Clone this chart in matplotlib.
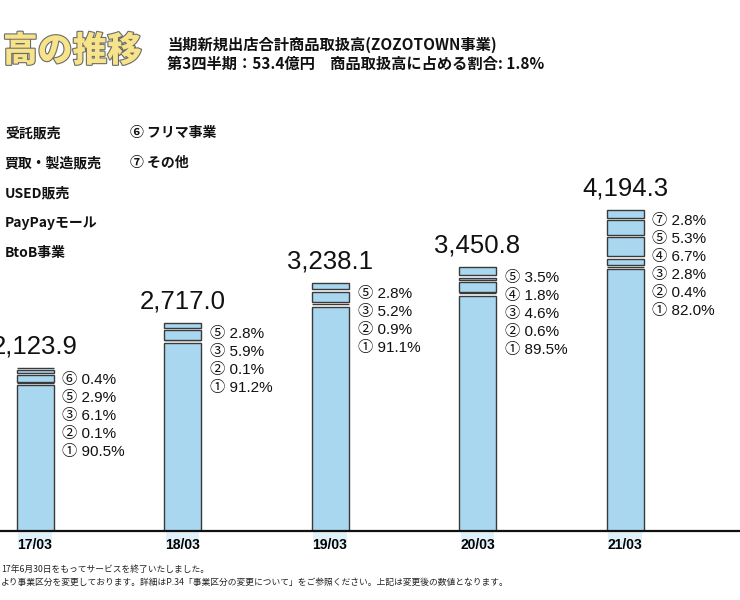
import matplotlib
matplotlib.use("Agg")
import matplotlib.pyplot as plt
import matplotlib.patheffects as pe
import numpy as np

plt.rcParams['font.family'] = ['Noto Sans CJK JP', 'DejaVu Sans']

# ---- data ----
periods = ['17/03', '18/03', '19/03', '20/03', '21/03']
totals = [2123.9, 2717.0, 3238.1, 3450.8, 4194.3]
# share (%) of each business segment, None = not present
seg1 = [90.5, 91.2, 91.1, 89.5, 82.0]   # ① 受託販売
seg2 = [0.1, 0.1, 0.9, 0.6, 0.4]        # ② 買取・製造販売
seg3 = [6.1, 5.9, 5.2, 4.6, 2.8]        # ③ USED販売
seg4 = [None, None, None, 1.8, 6.7]     # ④ PayPayモール
seg5 = [2.9, 2.8, 2.8, 3.5, 5.3]        # ⑤ BtoB事業
seg6 = [0.4, None, None, None, None]    # ⑥ フリマ事業
seg7 = [None, None, None, None, 2.8]    # ⑦ その他
segments = [seg1, seg2, seg3, seg4, seg5, seg6, seg7]
markers = ['①', '②', '③', '④', '⑤', '⑥', '⑦']
legend_names = ['受託販売', '買取・製造販売', 'USED販売', 'PayPayモール', 'BtoB事業',
                'フリマ事業', 'その他']

title_big = '高の推移'
header1 = '当期新規出店合計商品取扱高(ZOZOTOWN事業)'
header2 = '第3四半期：53.4億円　商品取扱高に占める割合: 1.8%'
note1 = '17年6月30日をもってサービスを終了いたしました。'
note2 = 'より事業区分を変更しております。詳細はP.34「事業区分の変更について」をご参照ください。上記は変更後の数値となります。'

# ---- figure ----
W, H = 740, 600
fig = plt.figure(figsize=(7.4, 6.0), dpi=100)
base_px = 531
top_px = 100
ax = fig.add_axes([0, (H - base_px) / H, 1, (base_px - top_px) / H])

px_per_unit = 0.0765
ymax = (base_px - top_px) / px_per_unit
spacing_px = 147.5
x0_px = 35
ax.set_xlim(-x0_px / spacing_px, (W - x0_px) / spacing_px)
ax.set_ylim(0, ymax)

bar_w = 37 / spacing_px
gap = 2.6 / px_per_unit
fill = '#a9d7f0'
edge = '#3a3a3a'
num_fonts = ['Liberation Sans', 'Noto Sans CJK JP', 'DejaVu Sans']

x = np.arange(len(periods))
for i, tot in enumerate(totals):
    present = [(k, seg[i]) for k, seg in enumerate(segments) if seg[i] is not None]
    # watercolor bleed below the baseline
    ax.bar(x[i], -200, width=bar_w * 0.9, bottom=0, color=fill, alpha=0.35,
           edgecolor='none', clip_on=False, zorder=1)
    cum = 0.0
    for j, (k, pct) in enumerate(present):
        h = tot * pct / 100.0
        b = cum + (gap / 2 if j > 0 else 0)
        t = cum + h - (gap / 2 if j < len(present) - 1 else 0)
        ax.bar(x[i], max(t - b, 0), width=bar_w, bottom=b, color=fill,
               edgecolor=edge, linewidth=1.0, zorder=2)
        cum += h
    # total label
    ax.annotate(f'{tot:,.1f}', (x[i], tot), xytext=(0, 22), textcoords='offset pixels',
                ha='center', va='center', fontsize=18.5, family=num_fonts,
                color='#111111', annotation_clip=False)
    # percentage labels, top segment first
    for r, (k, pct) in enumerate(reversed(present)):
        ax.annotate(f'{markers[k]} {pct:.1f}%', (x[i] + bar_w / 2, tot),
                    xytext=(9, -11 - 18 * r), textcoords='offset pixels',
                    ha='left', va='center', fontsize=11, family=num_fonts,
                    color='#111111', annotation_clip=False)

for s in ['top', 'right', 'left']:
    ax.spines[s].set_visible(False)
ax.spines['bottom'].set_linewidth(1.6)
ax.spines['bottom'].set_color('#111111')
ax.spines['bottom'].set_zorder(3)
ax.set_yticks([])
ax.set_xticks(x)
ax.set_xticklabels(periods, fontsize=10, fontweight='bold', family=num_fonts)
ax.tick_params(axis='x', length=0, pad=5)
ax.patch.set_visible(False)

# ---- title / header ----
fig.text(3 / W, 1 - 51 / H, title_big, fontsize=25, fontweight='heavy',
         color='#f7e48a', ha='left', va='center',
         path_effects=[pe.withStroke(linewidth=1.6, foreground='#6b6b6b')])
fig.text(167 / W, 1 - 45 / H, header1, fontsize=11, fontweight='bold',
         ha='left', va='center', color='#111111')
fig.text(167 / W, 1 - 64 / H, header2, fontsize=11, fontweight='bold',
         ha='left', va='center', color='#111111')

# ---- legend ----
leg_y = [133, 163, 193, 223, 253]
for k in range(5):
    fig.text(5 / W, 1 - leg_y[k] / H, legend_names[k], fontsize=10, fontweight='bold',
             ha='left', va='center', color='#111111')
for k in range(5, 7):
    fig.text(130 / W, 1 - leg_y[k - 5] / H, f'{markers[k]} {legend_names[k]}',
             fontsize=10, fontweight='bold', ha='left', va='center', color='#111111')

# ---- notes ----
fig.text(1 / W, 1 - 569 / H, note1, fontsize=6.3, ha='left', va='center', color='#222222')
fig.text(1 / W, 1 - 582 / H, note2, fontsize=6.3, ha='left', va='center', color='#222222')

fig.savefig('out.png', dpi=100)
